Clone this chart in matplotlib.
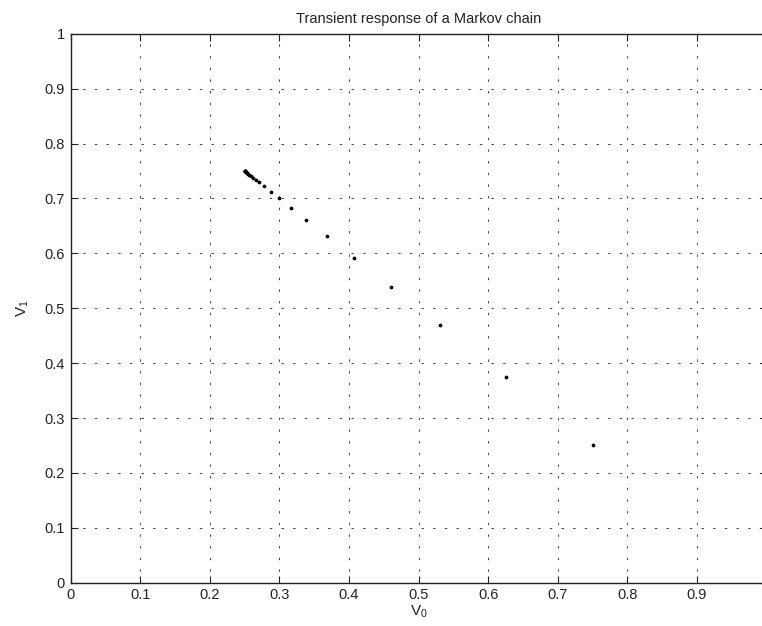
import matplotlib
matplotlib.use("Agg")
import matplotlib.pyplot as plt

plt.rcParams['font.family'] = ['Liberation Sans', 'DejaVu Sans']
plt.rcParams['mathtext.fontset'] = 'custom'
plt.rcParams['mathtext.rm'] = 'Liberation Sans'

v0 = [0.750, 0.625, 0.531, 0.461, 0.408, 0.369, 0.339, 0.317, 0.300, 0.288,
      0.278, 0.271, 0.266, 0.262, 0.259, 0.257, 0.255, 0.254, 0.253, 0.252,
      0.252, 0.251, 0.251, 0.251, 0.250, 0.250]
v1 = [0.250, 0.375, 0.469, 0.539, 0.592, 0.631, 0.661, 0.683, 0.700, 0.712,
      0.722, 0.729, 0.734, 0.738, 0.741, 0.743, 0.745, 0.746, 0.747, 0.748,
      0.748, 0.749, 0.749, 0.749, 0.750, 0.750]
xticks = [0, 0.1, 0.2, 0.3, 0.4, 0.5, 0.6, 0.7, 0.8, 0.9]
xticklabels = ['0', '0.1', '0.2', '0.3', '0.4', '0.5', '0.6', '0.7', '0.8', '0.9']
yticks = [0, 0.1, 0.2, 0.3, 0.4, 0.5, 0.6, 0.7, 0.8, 0.9, 1.0]
yticklabels = ['0', '0.1', '0.2', '0.3', '0.4', '0.5', '0.6', '0.7', '0.8', '0.9', '1']

fig = plt.figure(figsize=(7.62, 6.26), dpi=100)
ax = fig.add_axes([70.5/762, 43.3/626, 696/762, 549/626])
ax.plot(v0, v1, linestyle='none', marker='o', markersize=1.7, color='black')
ax.set_xlim(0, 1)
ax.set_ylim(0, 1)
ax.set_xticks(xticks)
ax.set_xticklabels(xticklabels)
ax.set_yticks(yticks)
ax.set_yticklabels(yticklabels)
ax.tick_params(direction='in', length=5, width=0.8, labelsize=10.5,
               top=True, right=True, colors='#222222', labelcolor='#222222', pad=4)
ax.grid(True, color='#444444', linestyle=(0, (2.5, 9.5)), linewidth=0.7)
for s in ax.spines.values():
    s.set_color('#222222')
    s.set_linewidth(1.0)
ax.set_title('Transient response of a Markov chain', fontsize=10.5, color='#222222', pad=8)
ax.set_xlabel(r'$\mathregular{V_0}$', fontsize=11, color='#222222', labelpad=1)
ax.set_ylabel(r'$\mathregular{V_1}$', fontsize=11, color='#222222', labelpad=10)

fig.savefig('out.png', dpi=100)
